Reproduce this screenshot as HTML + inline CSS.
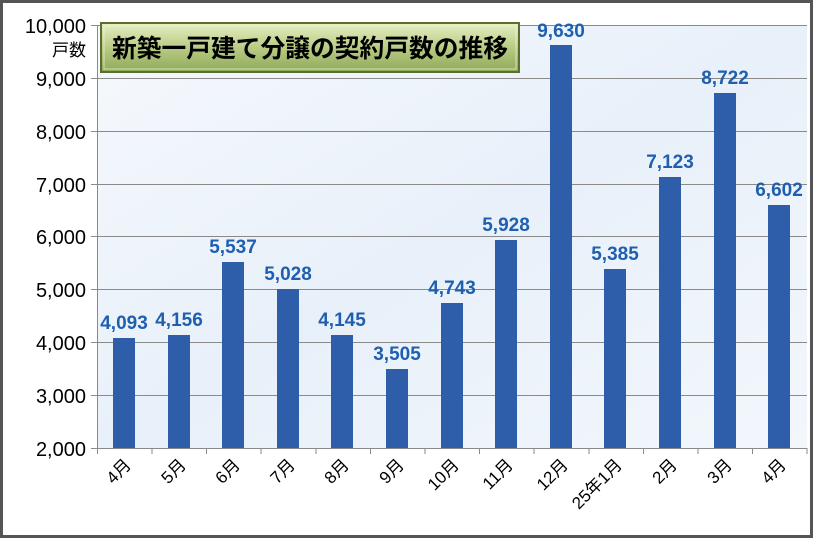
<!DOCTYPE html>
<html><head><meta charset="utf-8"><style>
html,body{margin:0;padding:0;background:#fff}
svg{display:block}
text{font-family:"Liberation Sans","Noto Sans CJK JP",sans-serif}
</style></head><body>
<svg width="813" height="538" viewBox="0 0 813 538" xmlns="http://www.w3.org/2000/svg">
<defs>
<linearGradient id="bg" x1="0" y1="0" x2="1" y2="1"><stop offset="0" stop-color="#f6f9fd"/><stop offset="0.5" stop-color="#e8f0f9"/><stop offset="1" stop-color="#f3f7fc"/></linearGradient>
<linearGradient id="tb" x1="0" y1="0" x2="0" y2="1"><stop offset="0" stop-color="#e6efc4"/><stop offset="0.5" stop-color="#b9cc84"/><stop offset="1" stop-color="#8fa95a"/></linearGradient>
</defs>
<rect x="1.5" y="1.5" width="810" height="535" fill="#fff" stroke="#555" stroke-width="3"/>
<rect x="97" y="25" width="710" height="423" fill="url(#bg)"/>
<g stroke="#8a8a8a" stroke-width="1">
<line x1="91" y1="25.5" x2="807" y2="25.5"/>
<line x1="91" y1="78.5" x2="807" y2="78.5"/>
<line x1="91" y1="131.5" x2="807" y2="131.5"/>
<line x1="91" y1="184.5" x2="807" y2="184.5"/>
<line x1="91" y1="236.5" x2="807" y2="236.5"/>
<line x1="91" y1="289.5" x2="807" y2="289.5"/>
<line x1="91" y1="342.5" x2="807" y2="342.5"/>
<line x1="91" y1="395.5" x2="807" y2="395.5"/>
<line x1="91" y1="448.5" x2="807" y2="448.5"/>
<line x1="97.5" y1="25" x2="97.5" y2="454"/>
<line x1="152" y1="448" x2="152" y2="454"/><line x1="206.5" y1="448" x2="206.5" y2="454"/><line x1="261" y1="448" x2="261" y2="454"/><line x1="316" y1="448" x2="316" y2="454"/><line x1="370.5" y1="448" x2="370.5" y2="454"/><line x1="425" y1="448" x2="425" y2="454"/><line x1="479.5" y1="448" x2="479.5" y2="454"/><line x1="534" y1="448" x2="534" y2="454"/><line x1="589" y1="448" x2="589" y2="454"/><line x1="643.5" y1="448" x2="643.5" y2="454"/><line x1="698" y1="448" x2="698" y2="454"/><line x1="752.5" y1="448" x2="752.5" y2="454"/><line x1="807" y1="448" x2="807" y2="454"/>
</g>
<g font-size="20" fill="#000" text-anchor="end">
<text x="86" y="33">10,000</text>
<text x="86" y="86">9,000</text>
<text x="86" y="139">8,000</text>
<text x="86" y="192">7,000</text>
<text x="86" y="244">6,000</text>
<text x="86" y="297">5,000</text>
<text x="86" y="350">4,000</text>
<text x="86" y="403">3,000</text>
<text x="86" y="456">2,000</text>
</g>
<text x="86" y="56" font-size="17" text-anchor="end">戸数</text>
<g fill="#2e5eaa">
<rect x="113" y="338" width="22" height="110"/>
<rect x="168" y="335" width="22" height="113"/>
<rect x="222" y="262" width="22" height="186"/>
<rect x="277" y="289" width="22" height="159"/>
<rect x="331" y="335" width="22" height="113"/>
<rect x="386" y="369" width="22" height="79"/>
<rect x="441" y="303" width="22" height="145"/>
<rect x="495" y="240" width="22" height="208"/>
<rect x="550" y="45" width="22" height="403"/>
<rect x="604" y="269" width="22" height="179"/>
<rect x="659" y="177" width="22" height="271"/>
<rect x="714" y="93" width="22" height="355"/>
<rect x="768" y="205" width="22" height="243"/>
</g>
<g font-size="19" font-weight="bold" fill="#1f5fb0" text-anchor="middle">
<text x="124" y="329">4,093</text>
<text x="179" y="326">4,156</text>
<text x="233" y="253">5,537</text>
<text x="288" y="280">5,028</text>
<text x="342" y="326">4,145</text>
<text x="397" y="360">3,505</text>
<text x="452" y="294">4,743</text>
<text x="506" y="231">5,928</text>
<text x="561" y="37">9,630</text>
<text x="615" y="260">5,385</text>
<text x="670" y="168">7,123</text>
<text x="725" y="84">8,722</text>
<text x="779" y="196">6,602</text>
</g>
<g font-size="17" fill="#000" text-anchor="end">
<text transform="translate(132,466) rotate(-45)">4月</text>
<text transform="translate(187,466) rotate(-45)">5月</text>
<text transform="translate(241,466) rotate(-45)">6月</text>
<text transform="translate(296,466) rotate(-45)">7月</text>
<text transform="translate(350,466) rotate(-45)">8月</text>
<text transform="translate(405,466) rotate(-45)">9月</text>
<text transform="translate(460,466) rotate(-45)">10月</text>
<text transform="translate(514,466) rotate(-45)">11月</text>
<text transform="translate(569,466) rotate(-45)">12月</text>
<text transform="translate(623,466) rotate(-45)">25年1月</text>
<text transform="translate(678,466) rotate(-45)">2月</text>
<text transform="translate(733,466) rotate(-45)">3月</text>
<text transform="translate(787,466) rotate(-45)">4月</text>
</g>
<rect x="101" y="23" width="418" height="49" fill="url(#tb)" stroke="#5a6e2e" stroke-width="2"/>
<rect x="104" y="26" width="412" height="43" fill="none" stroke="#eef4d8" stroke-width="1" opacity="0.7"/>
<text x="310" y="57" font-size="25" font-weight="bold" fill="#000" text-anchor="middle" textLength="396" lengthAdjust="spacingAndGlyphs">新築一戸建て分譲の契約戸数の推移</text>
</svg>
</body></html>
